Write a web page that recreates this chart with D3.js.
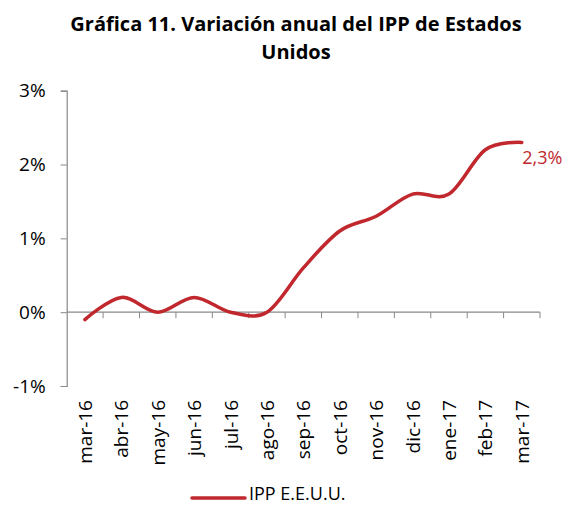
<!DOCTYPE html>
<html>
<head>
<meta charset="utf-8">
<script src="https://cdn.jsdelivr.net/npm/d3@7"></script>
<style>
  body { margin: 0; background: #fff; }
  svg { display: block; font-family: 'Open Sans', 'Noto Sans', sans-serif; }
</style>
</head>
<body>
<div id="graf"></div>
<script>
// datos
const meses = ['mar-16', 'abr-16', 'may-16', 'jun-16', 'jul-16', 'ago-16', 'sep-16',
  'oct-16', 'nov-16', 'dic-16', 'ene-17', 'feb-17', 'mar-17']
const ipp = [-0.1, 0.2, 0.0, 0.2, 0.0, 0.0, 0.6, 1.1, 1.3, 1.6, 1.6, 2.2, 2.3]
const yTicks = [-1, 0, 1, 2, 3]
const titulo = ['Gráfica 11. Variación anual del IPP de Estados', 'Unidos']
const serie = 'IPP E.E.U.U.'

const anchoTotal = 564
const altoTotal = 505
const rojo = '#c0282e'

const margin = { top: 90.7, left: 66.7, right: 24, bottom: 118.3 }

const svg = d3.select('#graf')
  .append('svg')
  .attr('width', anchoTotal)
  .attr('height', altoTotal)

// titulo
svg.selectAll('text.titulo')
  .data(titulo)
  .enter()
  .append('text')
  .attr('class', 'titulo')
  .attr('x', 296)
  .attr('y', (d, i) => 31 + i * 28)
  .attr('text-anchor', 'middle')
  .attr('font-size', 20)
  .attr('font-weight', 'bold')
  .attr('fill', '#000')
  .text((d) => d)

const g = svg.append('g')
  .attr('transform', `translate(${margin.left}, ${margin.top})`)

// escaladores
const x = d3.scaleBand().domain(meses).range([0, 473.3])
const y = d3.scaleLinear().domain([-1, 3]).range([295.3, 0])

// eje y
const ejeY = g.append('g')
  .call(d3.axisLeft(y).tickValues(yTicks).tickSize(6).tickFormat((d) => d + '%'))
ejeY.select('.domain').attr('stroke', '#888').attr('stroke-width', 1.2)
ejeY.selectAll('.tick line').attr('stroke', '#888')
ejeY.selectAll('.tick text')
  .attr('x', -21)
  .attr('font-size', 19)
  .attr('fill', '#000')
  .style('font-family', "'Open Sans', sans-serif")

// eje x en 0%
const ejeX = g.append('g')
  .attr('transform', `translate(0, ${y(0)})`)
ejeX.append('line')
  .attr('x1', 0)
  .attr('x2', x.range()[1])
  .attr('stroke', '#888')
  .attr('stroke-width', 1.2)
ejeX.selectAll('line.tick')
  .data(meses)
  .enter()
  .append('line')
  .attr('class', 'tick')
  .attr('x1', (d) => x(d) + x.bandwidth())
  .attr('x2', (d) => x(d) + x.bandwidth())
  .attr('y1', 0)
  .attr('y2', 6)
  .attr('stroke', '#888')

// etiquetas de meses
g.selectAll('text.mes')
  .data(meses)
  .enter()
  .append('text')
  .attr('class', 'mes')
  .attr('transform', (d) => `translate(${x(d) + x.bandwidth() / 2 + 7}, ${y(-1) + 14}) rotate(-90)`)
  .attr('text-anchor', 'end')
  .attr('font-size', 19)
  .attr('fill', '#000')
  .text((d) => d)

// linea
const linea = d3.line()
  .x((d, i) => x(meses[i]) + x.bandwidth() / 2)
  .y((d) => y(d))
  .curve(d3.curveCatmullRom.alpha(0))

g.append('path')
  .datum(ipp)
  .attr('d', linea)
  .attr('fill', 'none')
  .attr('stroke', rojo)
  .attr('stroke-width', 3.5)
  .attr('stroke-linecap', 'round')

// etiqueta del ultimo valor
const ultimo = ipp.length - 1
g.append('text')
  .attr('x', x(meses[ultimo]) + x.bandwidth() / 2 + 0.5)
  .attr('y', y(ipp[ultimo]) + 22)
  .attr('font-size', 18)
  .attr('fill', rojo)
  .text(d3.format('.1f')(ipp[ultimo]).replace('.', ',') + '%')

// leyenda
const leyenda = svg.append('g').attr('transform', 'translate(192, 498)')
leyenda.append('line')
  .attr('x1', 0)
  .attr('x2', 53)
  .attr('stroke', rojo)
  .attr('stroke-width', 3.5)
  .attr('stroke-linecap', 'round')
leyenda.append('text')
  .attr('x', 57)
  .attr('y', 2)
  .attr('font-size', 18)
  .attr('fill', '#000')
  .text(serie)
</script>
</body>
</html>
